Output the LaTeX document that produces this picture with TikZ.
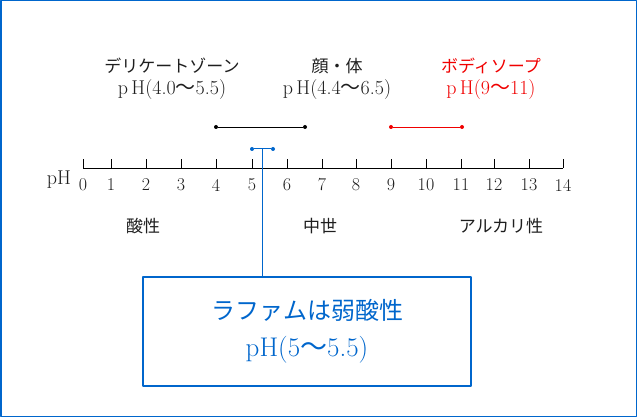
\documentclass[tikz,border=0pt]{standalone}
\usepackage{fontspec}
\newfontfamily\jp{Noto Sans CJK JP}
\definecolor{phblue}{RGB}{0,102,204}
\definecolor{phred}{RGB}{240,0,0}
\definecolor{phtext}{RGB}{30,30,30}
\newcommand{\wv}{{\jp 〜}}
\newcommand{\phl}[1]{{\fontsize{20bp}{22bp}\selectfont #1}}
\begin{document}
\begin{tikzpicture}[line join=bevel,
  lbl/.style={font=\fontsize{17bp}{22bp}\selectfont,text=phtext,inner sep=0pt,align=center},
  num/.style={font=\fontsize{18bp}{20bp}\selectfont,text=phtext,inner sep=0pt},
  dot/.style={circle,fill,inner sep=0pt,minimum size=4bp},
  ]
\useasboundingbox (0bp,0bp) rectangle (637bp,417bp);
\draw [phblue,line width=1.5bp] (0.75bp,0.75bp) rectangle (636.25bp,416.25bp);
%%
\foreach \v/\x in {0/83,1/111,2/146,3/181,4/216,5/252,6/287,7/322,8/356,9/391,10/426,11/461,12/494,13/529,14/563} {
  \coordinate (t\v) at (\x bp,249bp);
  \draw [line width=0.8bp] (t\v) -- ++(0bp,9bp);
  \node (n\v) at (\x bp,232bp) [num] {\v};
}
\draw [line width=0.8bp] (t0) -- (t14);
\node (ph_axis) at (59bp,237bp) [num,font=\fontsize{20bp}{22bp}\selectfont] {pH};
%%
\node (dz) at (172bp,338bp) [lbl] {{\jp デリケートゾーン}\\\phl{p\,H(4.0\wv5.5)}};
\node (face) at (337bp,338bp) [lbl] {{\jp 顔・体}\\\phl{p\,H(4.4\wv6.5)}};
\node (soap) at (491bp,338bp) [lbl,text=phred] {{\jp ボディソープ}\\\phl{p\,H(9\wv11)}};
\node (acid) at (143bp,191bp) [lbl] {\jp 酸性};
\node (neutral) at (320bp,191bp) [lbl] {\jp 中世};
\node (alkali) at (501bp,191bp) [lbl] {\jp アルカリ性};
%%
\node (dz_a) at (216bp,290bp) [dot] {};
\node (dz_b) at (305bp,290bp) [dot] {};
\node (soap_a) at (391bp,290bp) [dot,phred] {};
\node (soap_b) at (462bp,290bp) [dot,phred] {};
\node (lf_a) at (252bp,268bp) [dot,phblue] {};
\node (lf_b) at (273bp,268bp) [dot,phblue] {};
\coordinate (lf_m) at (262.5bp,268bp);
\node (lf_box) at (307bp,85.5bp) [draw=phblue,line width=2bp,minimum width=328bp,minimum height=109bp,
  text=phblue,font=\fontsize{24bp}{37bp}\selectfont,align=center,inner sep=0pt]
  {{\jp ラファムは弱酸性}\\{\fontsize{27bp}{37bp}\selectfont pH(5\wv5.5)}};
\draw [line width=0.8bp] (dz_a) -- (dz_b);
\draw [phred,line width=0.8bp] (soap_a) -- (soap_b);
\draw [phblue,line width=1bp] (lf_a) -- (lf_b);
\draw [phblue,line width=1bp] (lf_m) -- (lf_m |- lf_box.north);
%
\end{tikzpicture}
\end{document}
